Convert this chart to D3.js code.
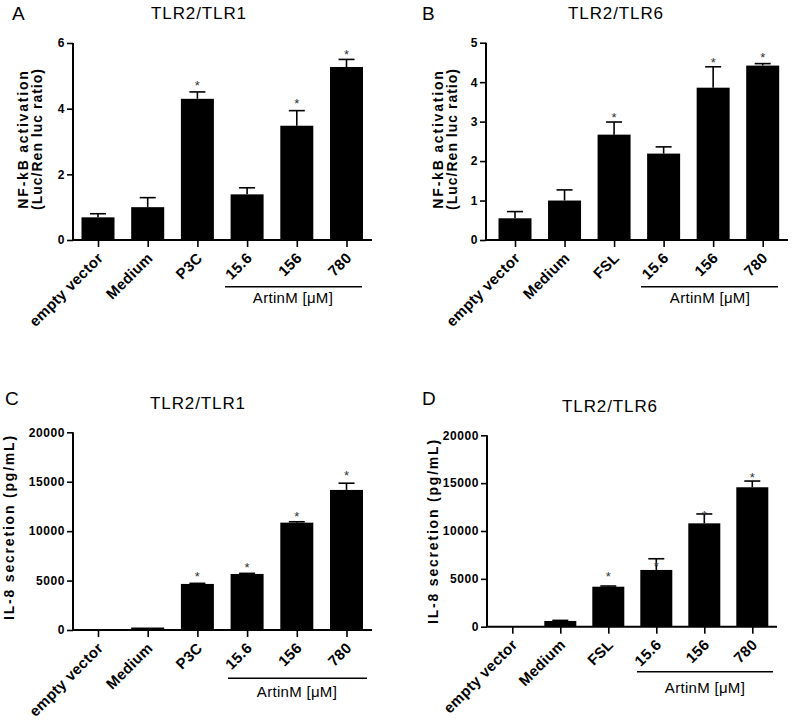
<!DOCTYPE html>
<html>
<head>
<meta charset="utf-8">
<script src="https://cdn.jsdelivr.net/npm/d3@7"></script>
<style>
  html, body { margin: 0; padding: 0; background: #fff; }
  svg { display: block; font-family: Arial, "Liberation Sans", sans-serif; }
</style>
</head>
<body>
<svg id="chart" width="793" height="720"></svg>
<script>
// ---------------- DATA ----------------
const categoriesA = ["empty vector", "Medium", "P3C", "15.6", "156", "780"];
const categoriesB = ["empty vector", "Medium", "FSL", "15.6", "156", "780"];

// A: NF-kB activation, TLR2/TLR1
const valuesA = [0.69, 1.00, 4.30, 1.39, 3.48, 5.27];
const errorsA = [0.11, 0.29, 0.21, 0.20, 0.46, 0.23];
const starsA  = [null, null, 4.79, null, 4.24, 5.74];
const ticksA  = [0, 2, 4, 6];

// B: NF-kB activation, TLR2/TLR6
const valuesB = [0.55, 1.00, 2.67, 2.19, 3.86, 4.42];
const errorsB = [0.17, 0.27, 0.32, 0.17, 0.53, 0.05];
const starsB  = [null, null, 3.17, null, 4.58, 4.71];
const ticksB  = [0, 1, 2, 3, 4, 5];

// C: IL-8 secretion, TLR2/TLR1
const valuesC = [0, 250, 4660, 5670, 10860, 14170];
const errorsC = [0, 0, 60, 60, 90, 680];
const starsC  = [null, null, 5670, 6580, 11810, 15920];
const ticksC  = [0, 5000, 10000, 15000, 20000];

// D: IL-8 secretion, TLR2/TLR6
const valuesD = [0, 600, 4180, 5930, 10800, 14570];
const errorsD = [0, 60, 70, 1170, 980, 650];
const starsD  = [null, null, 5580, 6625, 11910, 15955];
const ticksD  = [0, 5000, 10000, 15000, 20000];

const titles = ["TLR2/TLR1", "TLR2/TLR6", "TLR2/TLR1", "TLR2/TLR6"];
const letters = ["A", "B", "C", "D"];
const yLabelsNF = ["NF-kB activation", "(Luc/Ren luc ratio)"];
const yLabelsIL = ["IL-8 secretion (pg/mL)"];
const groupLabel = "ArtinM [\u03BCM]";

// ---------------- LAYOUT ----------------
const panels = [
  { cats: categoriesA, vals: valuesA, errs: errorsA, stars: starsA, ticks: ticksA, max: 6,
    axisX: 73, axisEnd: 372, c0: 98, c1: 346.5, y0: 240, yTop: 43, barW: 33,
    title: titles[0], titleX: 199, titleY: 18.5, letter: letters[0], letterX: 12, letterY: 19.5,
    ylab: yLabelsNF, ylabX: [28, 42], ylabY: 139, ylabLS: [1.8, 1.0],
    grp: [225, 362, 286.7], grpText: [293, 303] },
  { cats: categoriesB, vals: valuesB, errs: errorsB, stars: starsB, ticks: ticksB, max: 5,
    axisX: 486, axisEnd: 788, c0: 515, c1: 762.7, y0: 240, yTop: 42.7, barW: 33,
    title: titles[1], titleX: 616, titleY: 18.5, letter: letters[1], letterX: 422, letterY: 19.5,
    ylab: yLabelsNF, ylabX: [443, 457], ylabY: 139, ylabLS: [1.8, 1.0],
    grp: [641, 778, 286.7], grpText: [710, 303] },
  { cats: categoriesA, vals: valuesC, errs: errorsC, stars: starsC, ticks: ticksC, max: 20000,
    axisX: 73, axisEnd: 372, c0: 98, c1: 346.5, y0: 630, yTop: 432.3, barW: 33,
    title: titles[2], titleX: 198, titleY: 409, letter: letters[2], letterX: 5, letterY: 405,
    ylab: yLabelsIL, ylabX: [14], ylabY: 527, ylabLS: [1.8],
    grp: [228, 367, 678.3], grpText: [297, 697] },
  { cats: categoriesB, vals: valuesD, errs: errorsD, stars: starsD, ticks: ticksD, max: 20000,
    axisX: 487, axisEnd: 777, c0: 512.3, c1: 752.3, y0: 626.7, yTop: 435.3, barW: 32,
    title: titles[3], titleX: 610, titleY: 412, letter: letters[3], letterX: 422, letterY: 405,
    ylab: yLabelsIL, ylabX: [438], ylabY: 531, ylabLS: [1.8],
    grp: [637, 773, 671.7], grpText: [705, 693] }
];

const svg = d3.select("#chart");

panels.forEach(p => {
  const g = svg.append("g");
  const x = d3.scalePoint().domain(p.cats).range([p.c0, p.c1]);
  const y = d3.scaleLinear().domain([0, p.max]).range([p.y0, p.yTop]);
  const data = p.cats.map((c, i) => ({ c, v: p.vals[i], e: p.errs[i], s: p.stars[i] }));

  // bars
  g.selectAll("rect.bar").data(data).enter().append("rect")
    .attr("class", "bar")
    .attr("x", d => x(d.c) - p.barW / 2)
    .attr("width", p.barW)
    .attr("y", d => y(d.v))
    .attr("height", d => Math.max(0, y(0) - y(d.v)))
    .attr("fill", "#000");

  // error bars (upper only)
  const eb = data.filter(d => d.e > 0);
  g.selectAll("line.err").data(eb).enter().append("line")
    .attr("x1", d => x(d.c)).attr("x2", d => x(d.c))
    .attr("y1", d => y(d.v)).attr("y2", d => y(d.v + d.e))
    .attr("stroke", "#000").attr("stroke-width", 1.6);
  g.selectAll("line.cap").data(eb).enter().append("line")
    .attr("x1", d => x(d.c) - 8).attr("x2", d => x(d.c) + 8)
    .attr("y1", d => y(d.v + d.e)).attr("y2", d => y(d.v + d.e))
    .attr("stroke", "#000").attr("stroke-width", 1.6);

  // stars
  g.selectAll("text.star").data(data.filter(d => d.s !== null)).enter().append("text")
    .attr("x", d => x(d.c))
    .attr("y", d => y(d.s) + 7.5)
    .attr("text-anchor", "middle")
    .attr("font-size", 13)
    .attr("fill", "#333")
    .text("*");

  // y axis
  const yAxis = d3.axisLeft(y).tickValues(p.ticks).tickSize(6).tickPadding(2).tickFormat(d3.format("d"));
  const ya = g.append("g").attr("transform", `translate(${p.axisX},0)`).call(yAxis);
  ya.select(".domain").attr("d", `M0,${p.y0}V${p.yTop}`).attr("stroke-width", 2);
  ya.selectAll(".tick line").attr("stroke-width", 1.6);
  ya.selectAll(".tick text").attr("font-size", 12).attr("font-weight", "bold")
    .attr("font-family", "Arial, 'Liberation Sans', sans-serif").attr("letter-spacing", 0.6).attr("fill", "#000");

  // x axis
  const xAxis = d3.axisBottom(x).tickSize(7).tickFormat("");
  const xa = g.append("g").attr("transform", `translate(0,${p.y0})`).call(xAxis);
  xa.select(".domain").attr("d", `M${p.axisX},0H${p.axisEnd}`).attr("stroke-width", 2);
  xa.selectAll(".tick line").attr("stroke-width", 1.6);

  // x tick labels (rotated)
  g.selectAll("text.xl").data(p.cats).enter().append("text")
    .attr("transform", d => `translate(${x(d) + 6},${p.y0 + 19}) rotate(-45)`)
    .attr("text-anchor", "end")
    .attr("font-size", 15)
    .attr("font-weight", "bold")
    .attr("letter-spacing", 0.3)
    .text(d => d);

  // group line + label
  g.append("line")
    .attr("x1", p.grp[0]).attr("x2", p.grp[1])
    .attr("y1", p.grp[2]).attr("y2", p.grp[2])
    .attr("stroke", "#000").attr("stroke-width", 1.6);
  g.append("text")
    .attr("x", p.grpText[0]).attr("y", p.grpText[1])
    .attr("text-anchor", "middle").attr("font-size", 15)
    .attr("letter-spacing", 0.3)
    .text(groupLabel);

  // y label
  p.ylab.forEach((t, i) => {
    g.append("text")
      .attr("transform", `translate(${p.ylabX[i]},${p.ylabY}) rotate(-90)`)
      .attr("text-anchor", "middle")
      .attr("font-size", 14)
      .attr("font-weight", "bold")
      .attr("letter-spacing", p.ylabLS[i])
      .text(t);
  });

  // title
  g.append("text").attr("x", p.titleX).attr("y", p.titleY)
    .attr("text-anchor", "middle").attr("font-size", 17).attr("letter-spacing", 0.9)
    .text(p.title);
  // panel letter
  g.append("text").attr("x", p.letterX).attr("y", p.letterY)
    .attr("font-size", 19)
    .text(p.letter);
});
</script>
</body>
</html>
